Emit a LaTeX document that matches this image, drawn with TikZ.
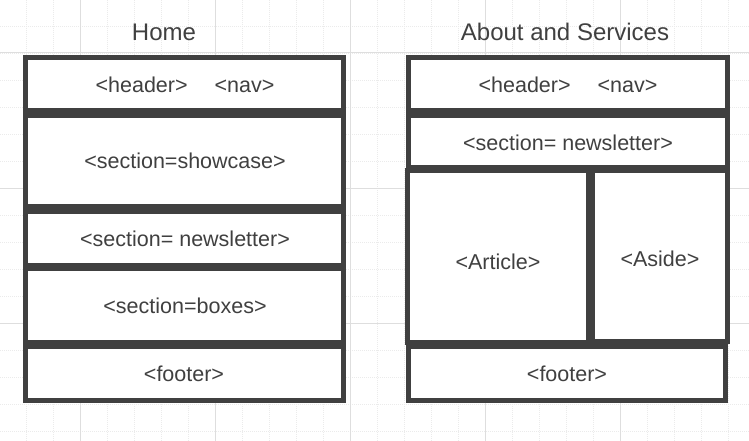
\documentclass[tikz,border=0pt]{standalone}
\usepackage{fontspec}
\setmainfont{Liberation Sans}
\definecolor{edge}{HTML}{404040}
\definecolor{ink}{HTML}{404040}
\definecolor{gridminor}{HTML}{EBEBEB}
\definecolor{gridmajor}{HTML}{DEDEDE}
\begin{document}
\begin{tikzpicture}[x=1pt,y=-1pt,
  frame/.style={draw=edge, line width=5pt, fill=white, inner sep=0pt, outer sep=0pt, anchor=north west},
  lbl/.style={text=ink, font=\fontsize{21.5}{25}\selectfont, inner sep=0pt, anchor=base},
  heading/.style={text=ink, font=\fontsize{24}{28}\selectfont, inner sep=0pt, anchor=base},
  minorline/.style={draw=gridminor, line width=0.8pt, dash pattern=on 1pt off 1pt},
  majorline/.style={draw=gridmajor, line width=1pt}]

% canvas and background grid
\fill[white] (0,0) rectangle (749,441);
\useasboundingbox (0,0) rectangle (749,441);
\foreach \x in {26,53,...,749} \path[minorline] (\x,0) -- (\x,441);
\foreach \y in {26,53,...,441} \path[minorline] (0,\y) -- (749,\y);
\foreach \x in {80,215,...,749} \path[majorline] (\x,0) -- (\x,441);
\foreach \y in {53,188,323} \path[majorline] (0,\y) -- (749,\y);

% column titles
\node[heading] (thome) at (164,41) {Home};
\node[heading] (tabout) at (565,41) {About and Services};

% Home page layout
\node[frame, minimum width=318pt, minimum height=53pt] (lhead) at (25.5,57.5) {};
\node[frame, minimum width=318pt, minimum height=91pt] (lshow) at (25.5,115.5) {};
\node[frame, minimum width=318pt, minimum height=54pt] (lnews) at (25.5,211.5) {};
\node[frame, minimum width=318pt, minimum height=74pt] (lbox) at (25.5,268) {};
\node[frame, minimum width=318pt, minimum height=54pt] (lfoot) at (25.5,346.5) {};

\node[lbl] (lheadt) at (185,93) {<header>\hspace{27pt}<nav>};
\node[lbl] (lshowt) at (185,168.5) {<section=showcase>};
\node[lbl] (lnewst) at (185,246.7) {<section= newsletter>};
\node[lbl] (lboxt) at (185,313) {<section=boxes>};
\node[lbl] (lfoott) at (184,381.7) {<footer>};

% About and Services layout
\node[frame, minimum width=319pt, minimum height=53.5pt] (rhead) at (408.5,57.5) {};
\node[frame, minimum width=319pt, minimum height=51.5pt] (rnews) at (408.5,116) {};
\node[frame, minimum width=181pt, minimum height=172pt] (rart) at (407.5,170.5) {};
\node[frame, minimum width=135pt, minimum height=171pt] (raside) at (592.5,170.5) {};
\node[frame, minimum width=317pt, minimum height=54pt] (rfoot) at (408.5,346.5) {};

\node[lbl] (rheadt) at (568,93) {<header>\hspace{27pt}<nav>};
\node[lbl] (rnewst) at (568,150) {<section= newsletter>};
\node[lbl] (rartt) at (498,269) {<Article>};
\node[lbl] (rasidet) at (660,266) {<Aside>};
\node[lbl] (rfoott) at (567,381.7) {<footer>};
\end{tikzpicture}
\end{document}
